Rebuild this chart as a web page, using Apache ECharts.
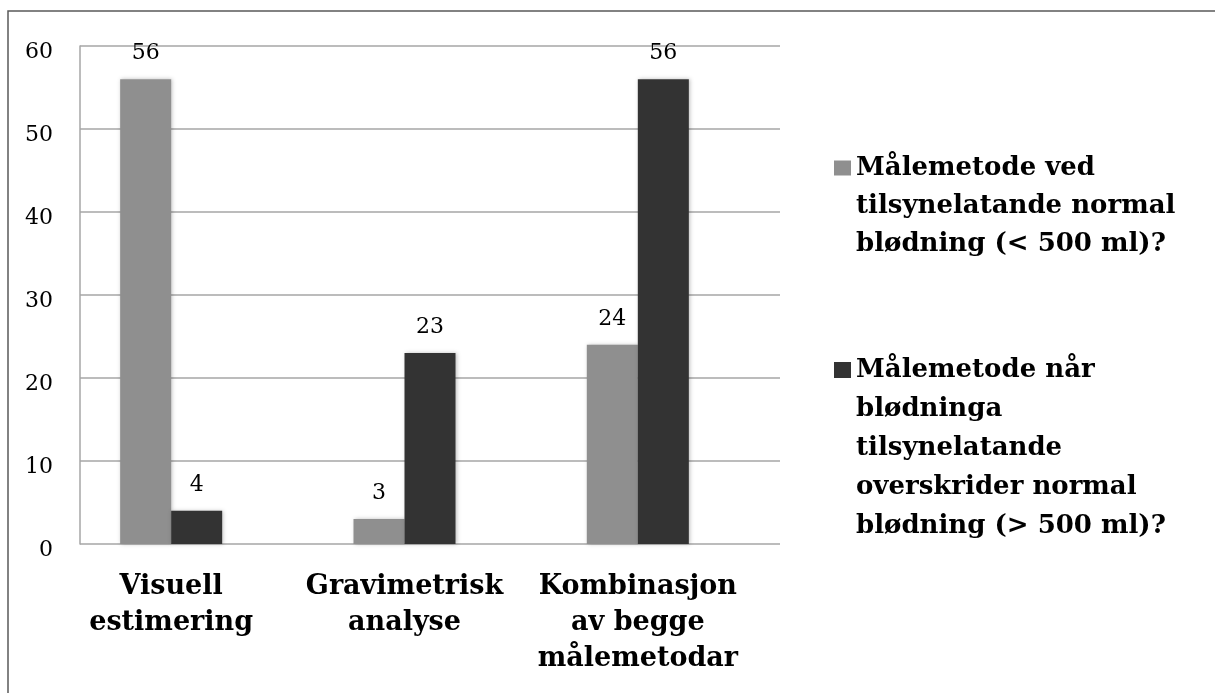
<!DOCTYPE html>
<html>
<head>
<meta charset="utf-8">
<script src="https://cdn.jsdelivr.net/npm/echarts@6/dist/echarts.min.js"></script>
<style>
html,body{margin:0;padding:0;background:#fff;}
#chart{width:1215px;height:693px;}
</style>
</head>
<body>
<div id="chart"></div>
<script>
const categories = ['Visuell\nestimering', 'Gravimetrisk\nanalyse', 'Kombinasjon\nav begge\nmålemetodar'];
const seriesNames = [
  'Målemetode ved tilsynelatande normal blødning (< 500 ml)?',
  'Målemetode når blødninga tilsynelatande overskrider normal blødning (> 500 ml)?'
];
const legendLines1 = ['Målemetode ved', 'tilsynelatande normal', 'blødning (< 500 ml)?'];
const legendLines2 = ['Målemetode når', 'blødninga', 'tilsynelatande', 'overskrider normal', 'blødning (> 500 ml)?'];
const normalValues = [56, 3, 24];
const exceedValues = [4, 23, 56];
const yTicks = [0, 10, 20, 30, 40, 50, 60];

const FONT = 'DejaVu Serif';
const chart = echarts.init(document.getElementById('chart'), null, {renderer: 'canvas'});

// Legend icon: a square aligned with the first text line, inside a tall invisible box
function legendFor(idx, lines, lh, sq, top) {
  const h = lh * lines.length;
  const c = lh / 2;
  const y0 = c - sq / 2;
  const icon = 'path://M0,' + y0 + 'h17v' + sq + 'h-17z' +
    'M0,0h0.02v0.02h-0.02z' +
    'M16.98,' + (h - 0.02) + 'h0.02v0.02h-0.02z';
  return {
    left: 834, top: top, padding: 0,
    orient: 'vertical',
    itemWidth: 17, itemHeight: h,
    selectedMode: false,
    data: [{name: seriesNames[idx], icon: icon}],
    formatter: () => lines.join('\n'),
    textStyle: {
      fontFamily: FONT, fontWeight: 'bold', fontSize: 26, color: '#000',
      lineHeight: lh
    }
  };
}

const labelStyle = {
  show: true, position: 'top', distance: 15,
  fontFamily: FONT, fontSize: 22, color: '#000'
};
const barShadow = {shadowBlur: 4, shadowColor: 'rgba(0,0,0,0.25)', shadowOffsetX: 1, shadowOffsetY: 0};

chart.setOption({
  animation: false,
  backgroundColor: '#fff',
  graphic: [{
    type: 'rect', silent: true, z: -1,
    shape: {x: 8, y: 11, width: 1400, height: 900},
    style: {fill: 'none', stroke: '#5a5a5a', lineWidth: 1.5}
  }],
  legend: [
    legendFor(0, legendLines1, 38, 15, 149),
    legendFor(1, legendLines2, 39, 16, 350.5)
  ],
  grid: [
    {left: 80, right: 435, top: 46, bottom: 149},
    {left: 54.5, right: 460.5, top: 46, bottom: 149}
  ],
  xAxis: [
    {gridIndex: 0, type: 'category', data: categories, show: false},
    {
      gridIndex: 1, type: 'category', data: categories,
      axisLine: {show: false}, axisTick: {show: false},
      axisLabel: {
        interval: 0, margin: 25,
        fontFamily: FONT, fontWeight: 'bold', fontSize: 27, lineHeight: 36, color: '#000'
      }
    }
  ],
  yAxis: [
    {
      gridIndex: 0, type: 'value', min: 0, max: 60, interval: 10,
      axisLine: {show: true, lineStyle: {color: '#a6a6a6', width: 1.5}},
      axisTick: {show: false},
      splitLine: {show: true, lineStyle: {color: '#a6a6a6', width: 1.5}},
      axisLabel: {
        margin: 27, fontFamily: FONT, fontSize: 22, color: '#000',
        verticalAlign: 'top', lineHeight: 12,
        formatter: v => yTicks.indexOf(v) >= 0 ? String(v) : ''
      }
    },
    {gridIndex: 1, type: 'value', min: 0, max: 60, interval: 10, show: false, splitLine: {show: false}}
  ],
  series: [
    {
      name: seriesNames[0], type: 'bar', xAxisIndex: 1, yAxisIndex: 1,
      data: normalValues, barWidth: 51, barGap: '0%',
      itemStyle: Object.assign({color: '#8f8f8f'}, barShadow),
      label: labelStyle
    },
    {
      name: seriesNames[1], type: 'bar', xAxisIndex: 1, yAxisIndex: 1,
      data: exceedValues, barWidth: 51, barGap: '0%',
      itemStyle: Object.assign({color: '#333333'}, barShadow),
      label: labelStyle
    }
  ]
});
</script>
</body>
</html>
